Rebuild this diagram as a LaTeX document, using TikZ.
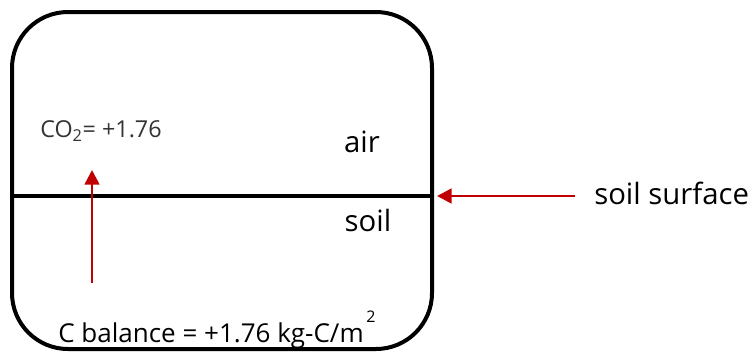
\documentclass[tikz,border=0pt]{standalone}
\usepackage{fontspec}
\setmainfont{Open Sans}
\usetikzlibrary{arrows.meta}
\definecolor{darkred}{HTML}{C00000}
\begin{document}
\begin{tikzpicture}[x=0.75pt,y=-0.75pt,
  lbl/.style={inner sep=0pt,font=\fontsize{22}{26}\selectfont},
  redarrow/.style={draw=darkred,line width=2pt,-{Triangle[length=11pt,width=11pt]}}]
\useasboundingbox (0,0) rectangle (755,361);
\draw[line width=3pt,rounded corners=42pt] (12,12) rectangle (432,349);
\coordinate (sl) at (12,196);
\coordinate (sr) at (432,196);
\draw[line width=3pt] (sl) -- (sr);
\node[inner sep=0pt,anchor=west,text=black!80,font=\fontsize{17.5}{20}\selectfont] (co2) at (40,131) {CO\textsubscript{2}= +1.76};
\node[lbl] (air) at (362,142) {air};
\node[lbl] (soil) at (368,220) {soil};
\node[lbl,anchor=west] (surf) at (594,193) {soil surface};
\node[inner sep=0pt,anchor=base west,font=\fontsize{19.5}{22}\selectfont] (bal) at (58,342) {C balance = +1.76 kg-C/m\raisebox{0.75em}{\fontsize{12}{12}\selectfont\,2}};
\coordinate (a1s) at (92,283);
\coordinate (a1e) at (92,170);
\draw[redarrow] (a1s) -- (a1e);
\coordinate (a2s) at (575,196);
\coordinate (a2e) at (437,196);
\draw[redarrow] (a2s) -- (a2e);
\end{tikzpicture}
\end{document}
